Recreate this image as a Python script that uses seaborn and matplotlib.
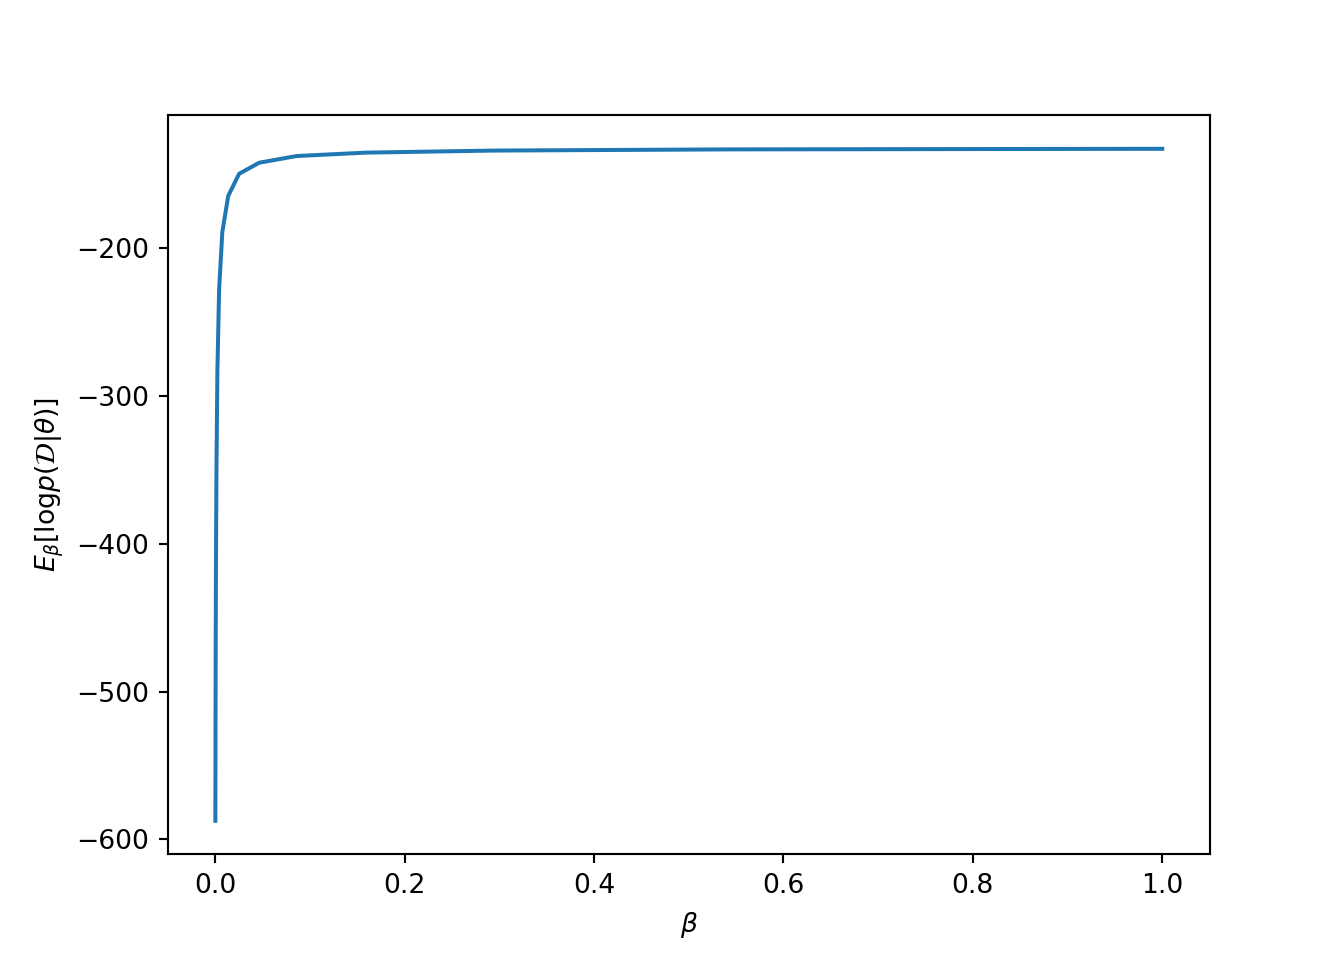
import matplotlib
matplotlib.use("Agg")
import matplotlib.pyplot as plt
import seaborn as sns

# inverse temperatures (0 plus a geometric ladder up to 1)
beta = [0.0, 0.0001, 0.000185, 0.000341, 0.000631, 0.001166, 0.002154,
        0.003981, 0.007356, 0.013594, 0.025119, 0.046416, 0.085770,
        0.158489, 0.292864, 0.541170, 1.0]

# expected log likelihood at each beta
exp_loglik = [-587.5, -565, -525, -478, -418, -350, -283, -228, -189,
              -164.5, -149.5, -142, -137.5, -135.2, -133.8, -133, -132.6]

fig, ax = plt.subplots(figsize=(7, 5), dpi=192)
sns.lineplot(x=beta, y=exp_loglik, ax=ax, sort=False, estimator=None,
             color='#1f77b4', linewidth=1.5)
ax.set_xlabel(r'$\beta$')
ax.set_ylabel(r'$E_{\beta}[\mathrm{log}p(\mathcal{D}|\theta)]$')

fig.savefig('out.png', dpi=192)
